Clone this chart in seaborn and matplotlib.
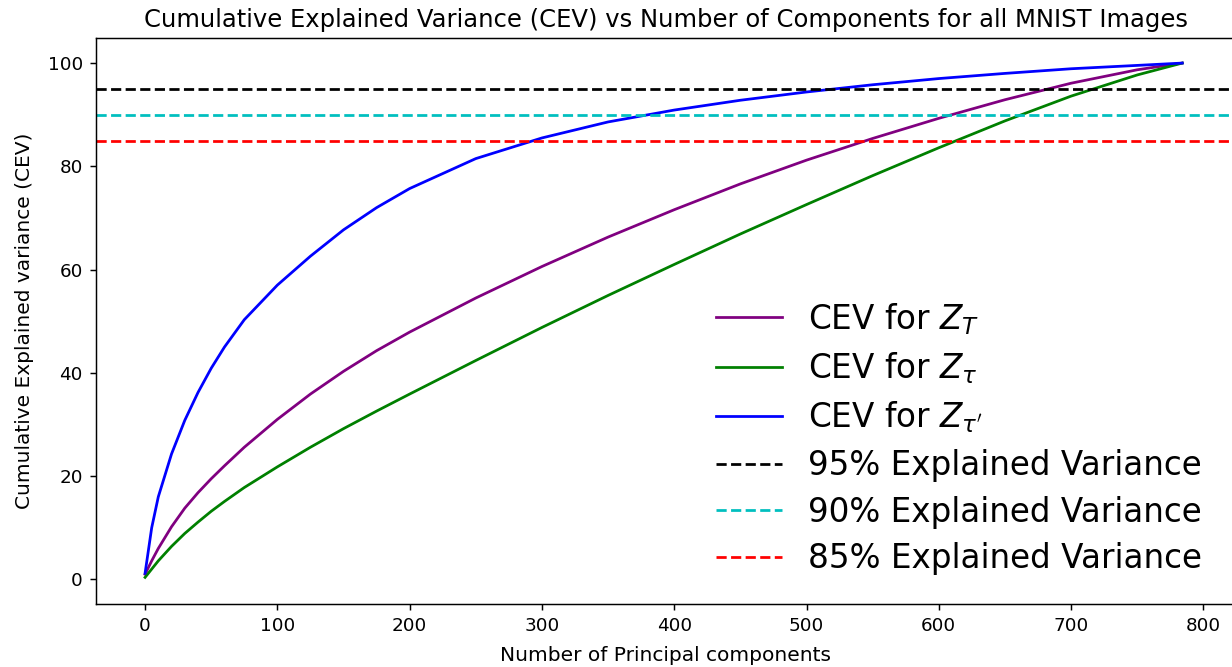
import matplotlib
matplotlib.use("Agg")
import matplotlib.pyplot as plt
import seaborn as sns
import pandas as pd

# Number of principal components (sample points)
components = [0, 5, 10, 20, 30, 40, 50, 60, 75, 100, 125, 150, 175, 200, 250, 300,
              350, 400, 450, 500, 550, 600, 650, 700, 750, 784]

# Cumulative explained variance (%) for each representation
cev_T = [1.0, 3.6, 6.0, 10.2, 13.8, 16.8, 19.5, 22.0, 25.6, 31.0, 35.9, 40.3, 44.3,
         47.9, 54.5, 60.6, 66.3, 71.6, 76.6, 81.2, 85.4, 89.3, 92.9, 96.1, 98.7, 100.0]
cev_tau = [0.4, 2.0, 3.6, 6.4, 8.9, 11.1, 13.2, 15.1, 17.8, 21.8, 25.6, 29.2, 32.6,
           35.9, 42.4, 48.8, 55.0, 61.0, 66.9, 72.6, 78.2, 83.6, 88.8, 93.6, 97.7, 100.0]
cev_tau_p = [1.2, 10.0, 16.0, 24.3, 30.8, 36.2, 40.9, 45.0, 50.3, 57.0, 62.6, 67.7, 72.0,
             75.7, 81.5, 85.5, 88.6, 90.9, 92.8, 94.4, 95.8, 97.0, 98.0, 98.9, 99.55, 100.0]

series_labels = [r"CEV for $Z_T$", r"CEV for $Z_\tau$", r"CEV for $Z_{\tau'}$"]
series_colors = ["purple", "green", "blue"]

thresholds = [95, 90, 85]
threshold_labels = ["95% Explained Variance", "90% Explained Variance", "85% Explained Variance"]
threshold_colors = ["black", "c", "r"]

S = 1.32
plt.rcParams.update({
    "font.size": 10 * S,
    "lines.linewidth": 1.5 * S,
    "axes.linewidth": 0.8 * S,
    "xtick.major.size": 3.5 * S,
    "ytick.major.size": 3.5 * S,
    "xtick.major.width": 0.8 * S,
    "ytick.major.width": 0.8 * S,
    "xtick.major.pad": 3.5 * S,
    "ytick.major.pad": 3.5 * S,
    "axes.titlepad": 6 * S,
})

df = pd.DataFrame({
    "components": components * 3,
    "cev": cev_T + cev_tau + cev_tau_p,
    "series": [series_labels[0]] * len(components) + [series_labels[1]] * len(components)
              + [series_labels[2]] * len(components),
})

fig = plt.figure(figsize=(12.32, 6.67), dpi=100)
ax = fig.add_axes([0.0777, 0.0949, 0.9256, 0.8477])

sns.lineplot(data=df, x="components", y="cev", hue="series",
             palette=dict(zip(series_labels, series_colors)), ax=ax, legend=False)
for lab, col in zip(series_labels, series_colors):
    ax.plot([], [], color=col, label=lab)

for t, lab, col in zip(thresholds, threshold_labels, threshold_colors):
    ax.axhline(t, color=col, linestyle="--", label=lab)

ax.set_xlim(-37.3, 824.7)
ax.set_ylim(-4.7, 104.8)
ax.set_xticks([0, 100, 200, 300, 400, 500, 600, 700, 800])
ax.set_yticks([0, 20, 40, 60, 80, 100])
ax.set_xlabel("Number of Principal components", fontsize=11 * S, labelpad=8.5)
ax.set_ylabel("Cumulative Explained variance (CEV)", fontsize=11 * S, labelpad=10)
ax.set_title("Cumulative Explained Variance (CEV) vs Number of Components for all MNIST Images",
             fontsize=13.25 * S)
ax.legend(loc="lower right", bbox_to_anchor=(1 - 5 / 1140, -0.002), frameon=False,
          fontsize=17.8 * S, labelspacing=0.42)

fig.savefig("out.png", dpi=100)
